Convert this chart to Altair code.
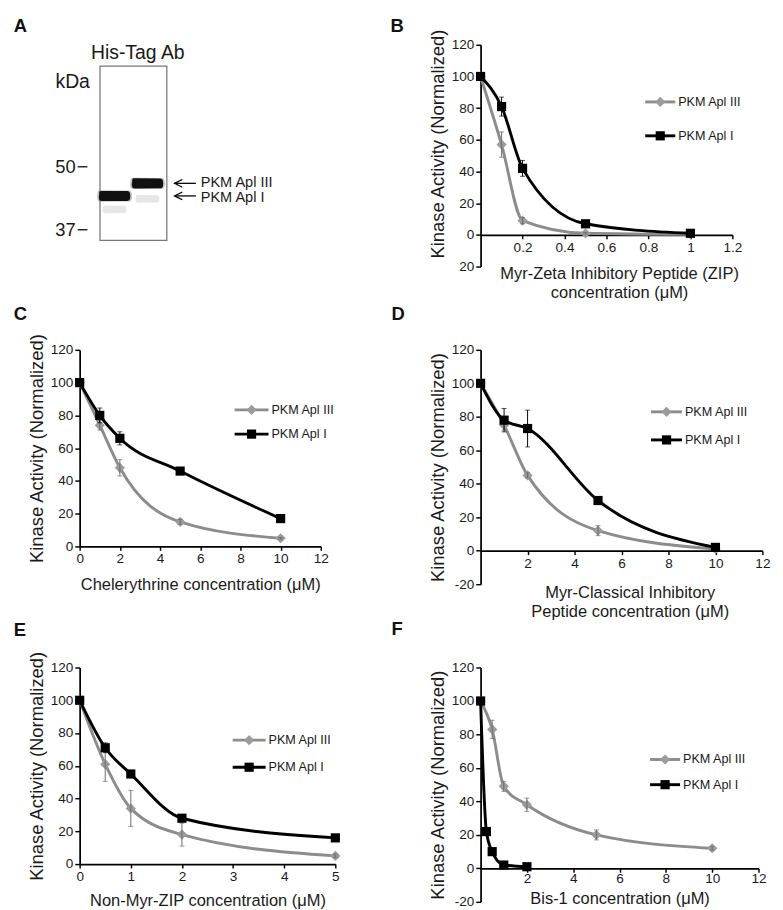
import altair as alt
import pandas as pd

FONT = "Liberation Sans"
S3 = "PKM Apl III"
S1 = "PKM Apl I"
GRAY_LINE = "#8c8c8c"
GRAY_PT = "#9b9b9b"
GRAY_ERR = "#6a6a6a"
TXT = "#1a1a1a"
YTITLE = "Kinase Activity (Normalized)"

# ---------------- Panel A (western blot) ----------------
blot_lane = [1, 2]
blot_band_kda = [43.5, 46.2]          # lane 1 = PKM Apl I, lane 2 = PKM Apl III
blot_band_label = [S1, S3]
blot_faint_kda = [40.8, 42.9]
marker_kda = [50, 37]
marker_label = ["50", "37"]

# ---------------- Panel B: Myr-ZIP ----------------
zip_x = [0, 0.1, 0.2, 0.5, 1.0]
zip_III = [100, 57, 9, 1, 0.3]
zip_III_err = [0, 8, 2, 0.5, 0]
zip_I = [100, 81, 42, 7, 1]
zip_I_err = [0, 6, 5, 1, 0]

# ---------------- Panel C: Chelerythrine ----------------
che_x = [0, 1, 2, 5, 10]
che_III = [100, 74, 48, 15, 5]
che_III_err = [0, 3, 5, 1.5, 0.5]
che_I = [100, 80, 66, 46, 17]
che_I_err = [0, 4.5, 4, 1, 1]

# ---------------- Panel D: Myr-Classical Inhibitory Peptide ----------------
cip_x = [0, 1, 2, 5, 10]
cip_III = [100, 75, 45, 12, 1]
cip_III_err = [0, 3, 1.5, 3, 0]
cip_I = [100, 78, 73, 30, 2]
cip_I_err = [0, 7, 11, 2, 1]

# ---------------- Panel E: Non-Myr-ZIP ----------------
nmz_x = [0, 0.5, 1, 2, 5]
nmz_III = [100, 61, 34, 18, 5]
nmz_III_err = [0, 10.5, 11, 7, 1]
nmz_I = [100, 71, 55, 28, 16]
nmz_I_err = [0, 3, 2, 2, 1]

# ---------------- Panel F: Bis-1 ----------------
bis_III_x = [0, 0.5, 1, 2, 5, 10]
bis_III = [100, 83, 49, 38, 20, 12]
bis_III_err = [0, 5.5, 3, 4, 3, 1]
bis_I_x = [0, 0.25, 0.5, 1, 2]
bis_I = [100, 22, 10, 2, 1]
bis_I_err = [0, 1, 1, 0.5, 0]


def make_axes(xvals, xtitle, ymin, yexpr, xoffset, xexpr=None, titleX=None,
              xtp=4, xlp=2, titleY=None):
    xk = dict(values=xvals, title=xtitle, grid=False, domainColor="black", domainWidth=1.8,
              tickColor="black", tickWidth=1.5, tickSize=4, labelFontSize=14, labelColor=TXT,
              labelFont=FONT, labelPadding=xlp, labelFlush=False, labelOverlap=False,
              titleFont=FONT, titleFontSize=17, titleFontWeight="normal", titleColor=TXT,
              titlePadding=xtp, titleLineHeight=20, offset=xoffset)
    if xexpr:
        xk["labelExpr"] = xexpr
    if titleX is not None:
        xk["titleX"] = titleX
    yk = dict(values=list(range(ymin, 121, 20)), title=YTITLE, grid=False, domainColor="black",
              domainWidth=1.8, tickColor="black", tickWidth=1.5, tickSize=5, labelFontSize=14,
              labelColor=TXT, labelFont=FONT, labelPadding=2, labelFlush=False, labelOverlap=False,
              titleFont=FONT, titleFontSize=19, titleFontWeight="normal", titleColor=TXT,
              titlePadding=4)
    if yexpr:
        yk["labelExpr"] = yexpr
    if titleY is not None:
        yk["titleY"] = titleY
    return alt.Axis(**xk), alt.Axis(**yk)


def series_layers(x, y, err, kind, xs, ys, xax, yax):
    df = pd.DataFrame({"x": x, "y": y, "err": err})
    df["lo"] = df["y"] - df["err"]
    df["hi"] = df["y"] + df["err"]
    X = alt.X("x:Q", scale=xs, axis=xax)
    base = alt.Chart(df)
    if kind == "III":
        lc, pc, ec, shape, size = GRAY_LINE, GRAY_PT, GRAY_ERR, "diamond", 110
    else:
        lc, pc, ec, shape, size = "black", "black", "black", "square", 90
    line = base.mark_line(interpolate="monotone", strokeWidth=3, color=lc).encode(
        X, alt.Y("y:Q", scale=ys, axis=yax))
    pts = base.mark_point(shape=shape, size=size, filled=True, opacity=1, color=pc).encode(
        X, alt.Y("y:Q", scale=ys, axis=yax))
    e = alt.Chart(df[df["err"] > 0])
    rule = e.mark_rule(strokeWidth=1, color=ec).encode(
        X, alt.Y("lo:Q", scale=ys, axis=yax), alt.Y2("hi:Q"))
    cap1 = e.mark_tick(orient="horizontal", size=5, thickness=1, color=ec).encode(
        X, alt.Y("lo:Q", scale=ys, axis=yax))
    cap2 = e.mark_tick(orient="horizontal", size=5, thickness=1, color=ec).encode(
        X, alt.Y("hi:Q", scale=ys, axis=yax))
    return [line, pts, rule, cap1, cap2]


def legend_layers(x1, x2, yIII, yI):
    out = []
    for name, yy, lc, pc, shape, size in [(S3, yIII, GRAY_LINE, GRAY_PT, "diamond", 110),
                                          (S1, yI, "black", "black", "square", 90)]:
        c = alt.Chart(pd.DataFrame({"label": [name]}))
        out.append(c.mark_rule(color=lc, strokeWidth=3).encode(
            x=alt.value(x1), x2=alt.value(x2), y=alt.value(yy)))
        out.append(c.mark_point(shape=shape, size=size, filled=True, opacity=1, color=pc).encode(
            x=alt.value((x1 + x2) / 2), y=alt.value(yy)))
        out.append(c.mark_text(align="left", baseline="middle", fontSize=13, font=FONT,
                               color=TXT).encode(
            x=alt.value(x2 + 3), y=alt.value(yy), text="label:N"))
    return out


def letter(t, x, y):
    return alt.Chart(pd.DataFrame({"t": [t]})).mark_text(
        align="left", baseline="alphabetic", fontSize=19, fontWeight="bold", font=FONT,
        color="#111").encode(x=alt.value(x), y=alt.value(y), text="t:N")


def graph(w, h, xdom, xvals, xtitle, ymin, yexpr, sIII, sI, leg, let, xexpr=None,
          titleX=None, xtp=4, xlp=2, titleY=None):
    xs = alt.Scale(domain=xdom, nice=False, zero=False)
    ys = alt.Scale(domain=[ymin, 120], nice=False, zero=False)
    xoffset = -h * (0 - ymin) / (120 - ymin)
    xax, yax = make_axes(xvals, xtitle, ymin, yexpr, xoffset, xexpr, titleX, xtp, xlp, titleY)
    layers = []
    layers += series_layers(*sIII, "III", xs, ys, xax, yax)
    layers += series_layers(*sI, "I", xs, ys, xax, yax)
    layers += legend_layers(*leg)
    layers.append(letter(*let))
    return alt.layer(*layers).properties(width=w, height=h)


# ---------------- build panel A ----------------
yA = alt.Scale(type="log", domain=[37, 89.6], nice=False)
xA = alt.Scale(domain=[1, 2], range=[36, 70])
BLOB = ("M-0.97,-0.2 C-0.97,-0.3 -0.9,-0.32 -0.8,-0.32 L0.8,-0.31 C0.93,-0.31 1,-0.22 1,-0.05 "
        "L1,0.1 C1,0.26 0.9,0.32 0.8,0.32 L-0.8,0.33 C-0.92,0.33 -1,0.24 -1,0.1 Z")
bands = pd.DataFrame({"lane": blot_lane, "kda": blot_band_kda, "label": blot_band_label})
faint = pd.DataFrame({"lane": blot_lane, "kda": blot_faint_kda})
markers = pd.DataFrame({"kda": marker_kda, "label": marker_label})
one = pd.DataFrame({"t": ["His-Tag Ab"]})

XA = alt.X("lane:Q", scale=xA, axis=None)
YA = alt.Y("kda:Q", scale=yA, axis=None)
a_layers = [
    alt.Chart(one).mark_rect(fill="white", stroke="#777", strokeWidth=1.3).encode(
        x=alt.value(21), x2=alt.value(90), y=alt.value(22), y2=alt.value(202)),
    alt.Chart(faint).mark_point(shape=BLOB, size=600, filled=True, color="#e0e0e0",
                                opacity=0.8).encode(XA, YA),
    alt.Chart(bands).mark_point(shape=BLOB, size=1300, filled=True, color="#555",
                                opacity=0.35).encode(XA, YA),
    alt.Chart(bands).mark_point(shape=BLOB, size=1050, filled=True, color="#111",
                                opacity=1).encode(XA, YA),
    alt.Chart(bands).mark_rule(color="black", strokeWidth=1.3).encode(
        x=alt.value(98), x2=alt.value(120), y=YA),
    alt.Chart(bands).mark_point(shape="M1,-1L-1,0L1,1", size=64, filled=False, color="black",
                                strokeWidth=1.3, opacity=1).encode(x=alt.value(102), y=YA),
    alt.Chart(bands).transform_filter(alt.datum.label == S3).mark_text(
        align="left", baseline="middle", fontSize=15, font=FONT, color=TXT, dy=-1.5).encode(
        x=alt.value(125), y=YA, text="label:N"),
    alt.Chart(bands).transform_filter(alt.datum.label == S1).mark_text(
        align="left", baseline="middle", fontSize=15, font=FONT, color=TXT, dy=1.5).encode(
        x=alt.value(125), y=YA, text="label:N"),
    alt.Chart(markers).mark_rule(color="black", strokeWidth=1.3).encode(
        x=alt.value(-2), x2=alt.value(8), y=YA),
    alt.Chart(markers).mark_text(align="right", baseline="middle", fontSize=19, font=FONT,
                                 color=TXT).encode(x=alt.value(-4), y=YA, text="label:N"),
    alt.Chart(pd.DataFrame({"t": ["kDa"]})).mark_text(
        align="left", baseline="middle", fontSize=20, font=FONT, color=TXT).encode(
        x=alt.value(-25), y=alt.value(39), text="t:N"),
    alt.Chart(one).mark_text(align="center", baseline="middle", fontSize=20, font=FONT,
                             color=TXT).encode(x=alt.value(60), y=alt.value(9), text="t:N"),
    letter("A", -68, -13),
]
panelA = alt.layer(*a_layers).properties(width=200, height=191)

panelB = graph(260, 229, [0, 1.2], [0.2, 0.4, 0.6, 0.8, 1.0, 1.2],
               ["Myr-Zeta Inhibitory Peptide (ZIP)", "concentration (\u03bcM)"], -20,
               "datum.value < 0 ? '20' : datum.label",
               (zip_x, zip_III, zip_III_err), (zip_x, zip_I, zip_I_err),
               (170, 201, 59, 94), ("B", -93, -13),
               xexpr="format(datum.value, '~g')", titleX=143, xtp=12, titleY=102)

panelC = graph(249, 203, [0, 12], [0, 2, 4, 6, 8, 10, 12],
               "Chelerythrine concentration (\u03bcM)", 0, None,
               (che_x, che_III, che_III_err), (che_x, che_I, che_I_err),
               (160, 195, 62, 87), ("C", -68, -31), xtp=11)

panelD = graph(291, 242, [0, 12], [2, 4, 6, 8, 10, 12],
               ["Myr-Classical Inhibitory", "Peptide concentration  (\u03bcM)"], -20,
               "datum.value < 0 ? '-20' : datum.label",
               (cip_x, cip_III, cip_III_err), (cip_x, cip_I, cip_I_err),
               (176, 208, 64, 93), ("D", -92, -31), titleX=154, xtp=15)

panelE = graph(264, 203, [0, 5], [0, 1, 2, 3, 4, 5],
               "Non-Myr-ZIP concentration (\u03bcM)", 0, None,
               (nmz_x, nmz_III, nmz_III_err), (nmz_x, nmz_I, nmz_I_err),
               (158, 192, 75, 103), ("E", -68, -33), xtp=10)

panelF = graph(287, 242, [0, 12], [2, 4, 6, 8, 10, 12],
               "Bis-1 concentration (\u03bcM)", -20,
               "datum.value < 0 ? '-20' : datum.label",
               (bis_III_x, bis_III, bis_III_err), (bis_I_x, bis_I, bis_I_err),
               (175, 206, 95, 121), ("F", -92, -34), xtp=5, xlp=0)

chart = alt.concat(panelA, panelB, panelC, panelD, panelE, panelF, columns=2,
                   spacing={"row": 86, "column": 150}, bounds="flush").configure_view(
    stroke=None).properties(padding={"left": 6, "top": -5, "right": 5, "bottom": 5})

chart.save("out.html", embed_options={"renderer": "svg", "actions": False})
